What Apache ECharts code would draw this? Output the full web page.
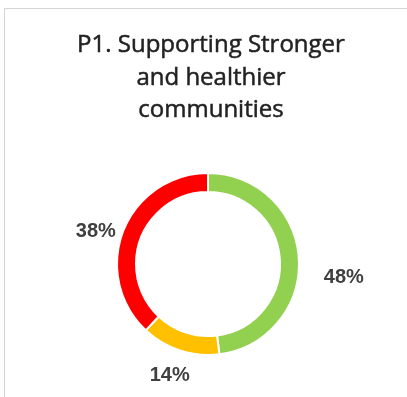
<!DOCTYPE html>
<html>
<head>
<meta charset="utf-8">
<script src="https://cdn.jsdelivr.net/npm/echarts@6/dist/echarts.min.js"></script>
<style>
  html, body { margin: 0; padding: 0; background: #fff; }
  #wrap { position: relative; width: 407px; height: 397px; overflow: hidden; }
  #frame { position: absolute; left: 4px; top: 8px; width: 420px; height: 420px;
           border-left: 1px solid #d4d4d4; border-top: 1px solid #d4d4d4; }
  #chart { position: absolute; left: 0; top: 0; width: 407px; height: 397px; }
</style>
</head>
<body>
<div id="wrap">
  <div id="frame"></div>
  <div id="chart"></div>
</div>
<script>
// Share of actions by status for priority P1
const titleText = 'P1. Supporting Stronger\nand healthier\ncommunities';
const categories = ['Green', 'Amber', 'Red'];
const values = [48, 14, 38];
const colors = ['#92D050', '#FFC000', '#FF0000'];
// fine offsets for the outside labels
const labelShiftX = [0, 21, 16];
const labelShiftY = [20, 6, 8];

const chart = echarts.init(document.getElementById('chart'), null, { renderer: 'canvas' });

chart.setOption({
  animation: false,
  title: {
    text: titleText,
    left: 206,
    textAlign: 'center',
    top: 24,
    textStyle: {
      fontFamily: 'Open Sans',
      fontSize: 24,
      fontWeight: 'normal',
      lineHeight: 32.5,
      color: '#222222',
      textBorderColor: '#222222',
      textBorderWidth: 0.5
    }
  },
  series: [{
    type: 'pie',
    center: [208, 264],
    radius: [72, 91],
    startAngle: 90,
    clockwise: true,
    avoidLabelOverlap: false,
    itemStyle: { borderColor: '#fff', borderWidth: 2 },
    label: {
      show: true,
      position: 'outside',
      formatter: p => p.value + '%',
      fontFamily: 'Liberation Sans',
      fontWeight: 'bold',
      fontSize: 20,
      color: '#404040'
    },
    labelLine: { show: false, length: 20, length2: 0 },
    labelLayout: p => ({ dx: labelShiftX[p.dataIndex], dy: labelShiftY[p.dataIndex] }),
    emphasis: { disabled: true },
    data: categories.map((c, i) => ({ name: c, value: values[i], itemStyle: { color: colors[i] } }))
  }]
});
</script>
</body>
</html>
